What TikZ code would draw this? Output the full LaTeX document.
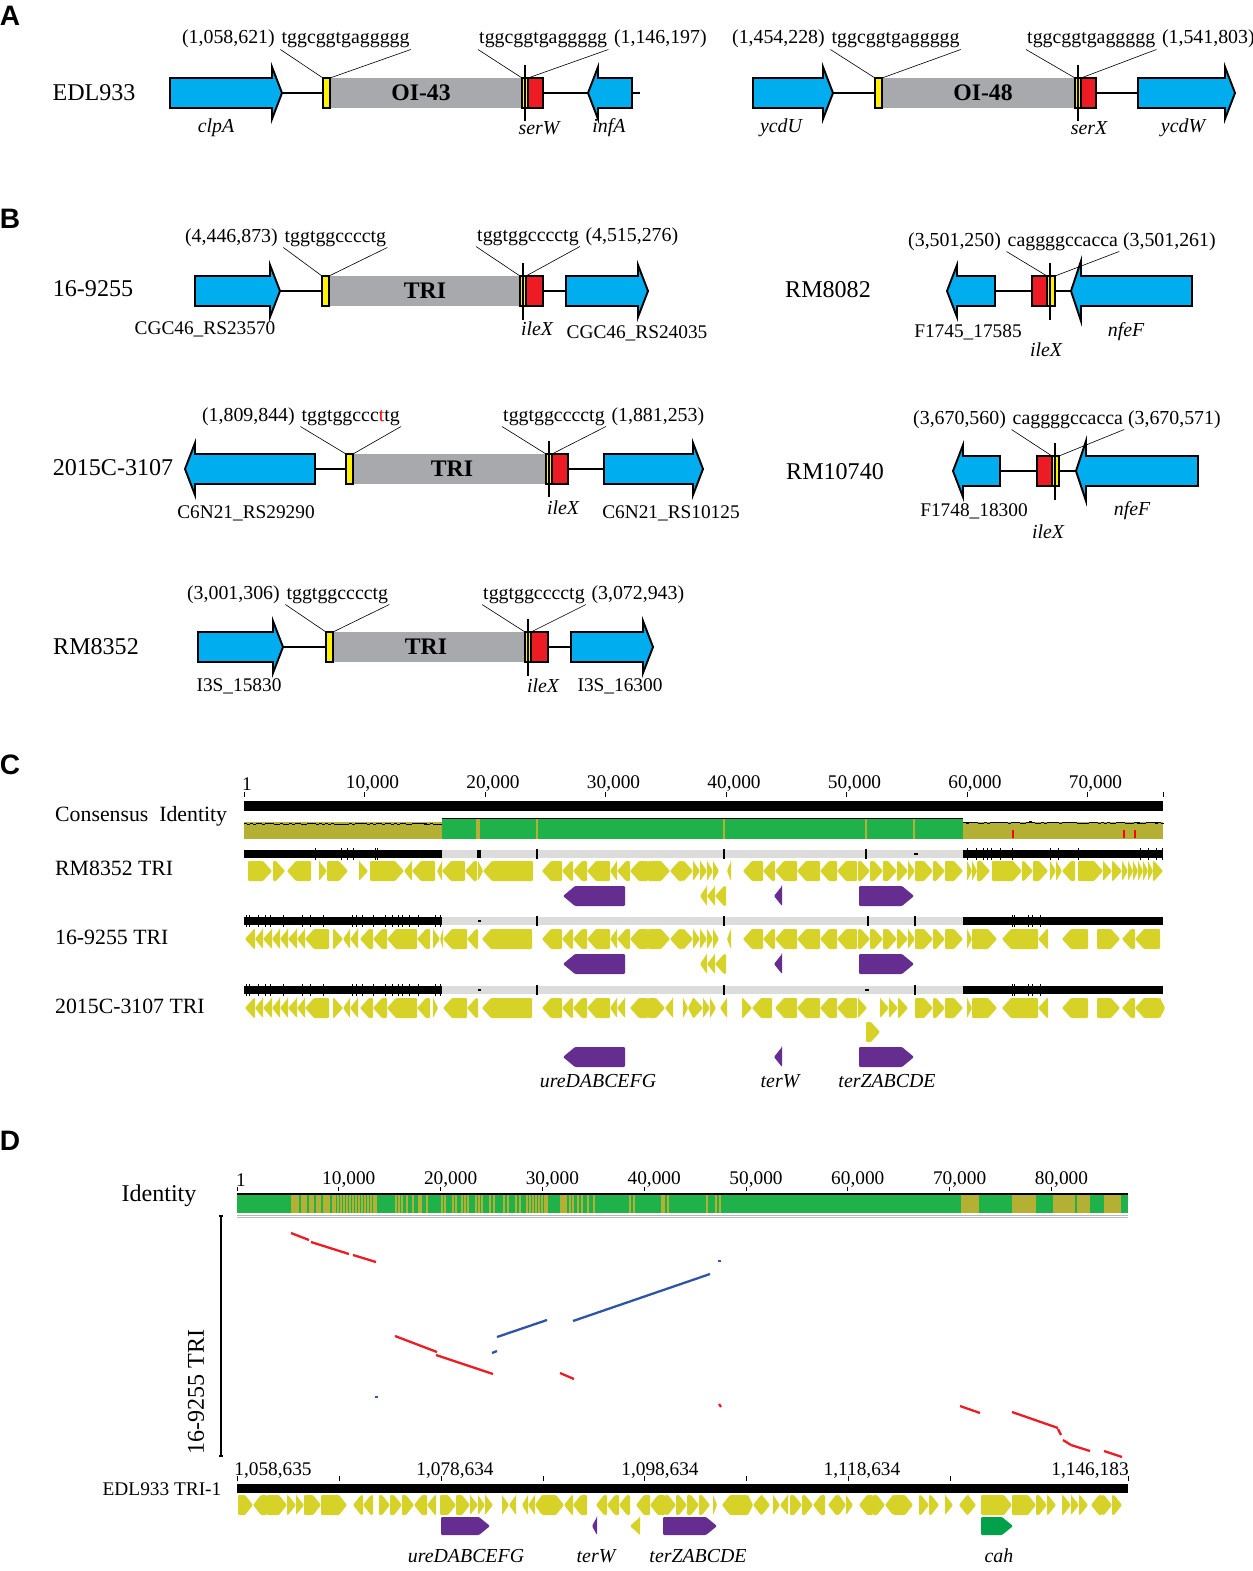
\documentclass[tikz,border=0pt]{standalone}
\usepackage{fontspec}
\setmainfont{Liberation Serif}
\setsansfont{Liberation Sans}
\usetikzlibrary{positioning}

\definecolor{gblue}{RGB}{0,174,239}
\definecolor{gyel}{RGB}{255,242,0}
\definecolor{gred}{RGB}{237,28,36}
\definecolor{ggrey}{RGB}{167,169,172}
\definecolor{cyel}{RGB}{215,210,40}
\definecolor{cpur}{RGB}{102,45,145}
\definecolor{cgrn}{RGB}{32,178,74}
\definecolor{cgrn2}{RGB}{0,161,75}
\definecolor{colv}{RGB}{180,176,52}
\definecolor{clgr}{RGB}{220,220,220}
\definecolor{dotred}{RGB}{237,28,36}
\definecolor{dotblue}{RGB}{46,84,166}

\tikzset{
  gbox/.style={fill=gblue,draw=black,line width=1.1pt},
  ybox/.style={fill=gyel,draw=black,line width=1.1pt,inner sep=0pt,outer sep=0pt,minimum width=0.14cm,minimum height=0.6cm},
  rbox/.style={fill=gred,draw=black,line width=1.1pt,inner sep=0pt,outer sep=0pt,minimum width=0.32cm,minimum height=0.6cm},
  bone/.style={line width=1.1pt},
  sitemark/.style={line width=1.1pt},
  callout/.style={line width=0.35pt},
  strain/.style={font=\fontsize{13.7}{16}\selectfont},
  seq/.style={font=\fontsize{11.3}{13}\selectfont,inner sep=0.5pt},
  locus/.style={font=\fontsize{11}{13}\selectfont},
  gname/.style={font=\fontsize{11.3}{13}\selectfont\itshape},
  island/.style={font=\fontsize{13.5}{16}\selectfont\bfseries},
  panel/.style={font=\sffamily\bfseries\fontsize{16}{18}\selectfont},
  axnum/.style={font=\fontsize{11}{13}\selectfont},
  track/.style={font=\fontsize{12.4}{14}\selectfont},
  dotr/.style={dotred,line width=1.3pt},
  dotb/.style={dotblue,line width=1.3pt},
}

\newcommand{\garrow}[4][26]{%
  \pgfmathsetmacro{\hx}{#3-10*sign(#3-#2)}
  \filldraw[gbox] (#2,#4-15) -- (\hx,#4-15) -- (\hx,#4-#1) -- (#3,#4) -- (\hx,#4+#1) -- (\hx,#4+15) -- (#2,#4+15) -- cycle;}

\newcommand{\gene}[4][cyel]{%
  \pgfmathsetmacro{\hx}{#3-sign(#3-#2)*min(\ghead,abs(#3-#2))}
  \fill[#1,rounded corners=0.6pt] (#2,#4-\ghalf) -- (\hx,#4-\ghalf) -- (#3,#4) -- (\hx,#4+\ghalf) -- (#2,#4+\ghalf) -- cycle;}

\begin{document}
\begin{tikzpicture}[x=0.02cm,y=-0.02cm]
\useasboundingbox (0,0) rectangle (1252,1571);
\fill[white] (0,0) rectangle (1252,1571);

\node[panel] (pA) at (10,16) {A};
\node[panel] (pB) at (10,219) {B};
\node[panel] (pC) at (10,765) {C};
\node[panel] (pD) at (10,1141) {D};

\begin{scope}
  \node[strain] (sEDL) at (94,93) {EDL933};
  \coordinate (bA1) at (282,93);
  \coordinate (eA1) at (640,93);
  \draw[bone] (bA1) -- (eA1);
  \garrow{170}{282}{93}
  \garrow{632}{588}{93}
  \fill[ggrey] (330,78) rectangle (522,108);
  \node[ybox] (yA1) at (326.5,93) {};
  \node[ybox,minimum width=0.12cm] (yA2) at (525,93) {};
  \node[rbox,minimum width=0.3cm] (rA1) at (535.5,93) {};
  \draw[sitemark] (525,65) -- (525,121);
  \node[island] (iA1) at (421,93) {OI-43};
  \node[seq,anchor=base east] (cA1) at (276,44) {(1,058,621)};
  \node[seq,base right=2.5pt of cA1] (qA1) {tggcggtgaggggg};
  \node[seq,anchor=base west] (qA2) at (478,44) {tggcggtgaggggg};
  \node[seq,base right=2.5pt of qA2] (cA2) {(1,146,197)};
  \draw[callout] (qA1.south west) -- (yA1.north west);
  \draw[callout] (qA1.south east) -- (yA1.north east);
  \draw[callout] (qA2.south west) -- (yA2.north west);
  \draw[callout] (qA2.south east) -- (yA2.north east);
  \node[gname] (clpA) at (216,128) {clpA};
  \node[gname] (serW) at (539,128) {serW};
  \node[gname] (infA) at (609,128) {infA};
\end{scope}

\begin{scope}
  \coordinate (bA2) at (833,93);
  \coordinate (eA2) at (1138,93);
  \draw[bone] (bA2) -- (eA2);
  \garrow{753}{833}{93}
  \garrow{1138}{1235}{93}
  \fill[ggrey] (882,78) rectangle (1075,108);
  \node[ybox] (yA3) at (878.5,93) {};
  \node[ybox,minimum width=0.12cm] (yA4) at (1078,93) {};
  \node[rbox,minimum width=0.3cm] (rA2) at (1088.5,93) {};
  \draw[sitemark] (1078,65) -- (1078,121);
  \node[island] (iA2) at (983,93) {OI-48};
  \node[seq,anchor=base east] (cA3) at (826,44) {(1,454,228)};
  \node[seq,base right=2.5pt of cA3] (qA3) {tggcggtgaggggg};
  \node[seq,anchor=base west] (qA4) at (1026,44) {tggcggtgaggggg};
  \node[seq,base right=2.5pt of qA4] (cA4) {(1,541,803)};
  \draw[callout] (qA3.south west) -- (yA3.north west);
  \draw[callout] (qA3.south east) -- (yA3.north east);
  \draw[callout] (qA4.south west) -- (yA4.north west);
  \draw[callout] (qA4.south east) -- (yA4.north east);
  \node[gname] (ycdU) at (781,128) {ycdU};
  \node[gname] (serX) at (1089,128) {serX};
  \node[gname] (ycdW) at (1183,128) {ycdW};
\end{scope}

\begin{scope}
  \node[strain] (s169) at (93,289) {16-9255};
  \coordinate (bB1) at (280,291);
  \coordinate (eB1) at (566,291);
  \draw[bone] (bB1) -- (eB1);
  \garrow{195}{280}{291}
  \garrow{566}{648}{291}
  \fill[ggrey] (329,276) rectangle (520,306);
  \node[ybox] (yB1) at (325.5,291) {};
  \node[ybox,minimum width=0.12cm] (yB2) at (523,291) {};
  \node[rbox,minimum width=0.34cm] (rB1) at (534.5,291) {};
  \draw[sitemark] (523,263) -- (523,320);
  \node[island] (iB1) at (425,291) {TRI};
  \node[seq,anchor=base east] (cB1) at (279,242) {(4,446,873)};
  \node[seq,base right=2.5pt of cB1] (qB1) {tggtggcccctg};
  \node[seq,anchor=base west] (qB2) at (476,241) {tggtggcccctg};
  \node[seq,base right=2.5pt of qB2] (cB2) {(4,515,276)};
  \draw[callout] (qB1.south west) -- (yB1.north west);
  \draw[callout] (qB1.south east) -- (yB1.north east);
  \draw[callout] (qB2.south west) -- (yB2.north west);
  \draw[callout] (qB2.south east) -- (yB2.north east);
  \node[locus] (lB1) at (205,329) {CGC46\_RS23570};
  \node[gname] (ileX1) at (537,329) {ileX};
  \node[locus] (lB2) at (637,333) {CGC46\_RS24035};
\end{scope}

\begin{scope}
  \node[strain] (s8082) at (828,290) {RM8082};
  \coordinate (bB2) at (995,291);
  \coordinate (eB2) at (1071,291);
  \draw[bone] (bB2) -- (eB2);
  \garrow{995}{947}{291}
  \garrow[30]{1192}{1071}{291}
  \node[rbox,minimum width=0.3cm] (rB2) at (1039.5,291) {};
  \node[ybox,minimum width=0.16cm] (yB3) at (1051,291) {};
  \draw[sitemark] (1050,263) -- (1050,320);
  \node[seq,anchor=base west] (cB3) at (907,246) {(3,501,250)};
  \node[seq,base right=2.5pt of cB3] (qB3) {caggggccacca};
  \node[seq,base right=1.5pt of qB3] (cB4) {(3,501,261)};
  \draw[callout] (qB3.south west) -- (yB3.north west);
  \draw[callout] (qB3.south east) -- (yB3.north east);
  \node[locus] (lB3) at (968,332) {F1745\_17585};
  \node[gname] (ileX2) at (1046,350) {ileX};
  \node[gname] (nfeF1) at (1126,332) {nfeF};
\end{scope}

\begin{scope}
  \node[strain] (s2015) at (113,468) {2015C-3107};
  \coordinate (bB3) at (315,469);
  \coordinate (eB3) at (604,469);
  \draw[bone] (bB3) -- (eB3);
  \garrow{315}{185}{469}
  \garrow{604}{703}{469}
  \fill[ggrey] (353,454) rectangle (546,484);
  \node[ybox] (yB4) at (349.5,469) {};
  \node[ybox,minimum width=0.12cm] (yB5) at (549,469) {};
  \node[rbox] (rB3) at (560,469) {};
  \draw[sitemark] (549,441) -- (549,497);
  \node[island] (iB3) at (452,469) {TRI};
  \node[seq,anchor=base east] (cB5) at (296,421) {(1,809,844)};
  \node[seq,base right=2.5pt of cB5] (qB5) {tggtggccc\textcolor{red}{t}tg};
  \node[seq,anchor=base west] (qB6) at (502,421) {tggtggcccctg};
  \node[seq,base right=2.5pt of qB6] (cB6) {(1,881,253)};
  \draw[callout] (qB5.south west) -- (yB4.north west);
  \draw[callout] (qB5.south east) -- (yB4.north east);
  \draw[callout] (qB6.south west) -- (yB5.north west);
  \draw[callout] (qB6.south east) -- (yB5.north east);
  \node[locus] (lB4) at (246,513) {C6N21\_RS29290};
  \node[gname] (ileX3) at (563,508) {ileX};
  \node[locus] (lB5) at (671,513) {C6N21\_RS10125};
\end{scope}

\begin{scope}
  \node[strain] (s10740) at (835,472) {RM10740};
  \coordinate (bB4) at (1000,471);
  \coordinate (eB4) at (1076,471);
  \draw[bone] (bB4) -- (eB4);
  \garrow{1000}{953}{471}
  \garrow[30]{1198}{1076}{471}
  \node[rbox,minimum width=0.3cm] (rB4) at (1044.5,471) {};
  \node[ybox] (yB6) at (1055.5,471) {};
  \draw[sitemark] (1055,443) -- (1055,500);
  \node[seq,anchor=base west] (cB7) at (912,424) {(3,670,560)};
  \node[seq,base right=2.5pt of cB7] (qB7) {caggggccacca};
  \node[seq,base right=1.5pt of qB7] (cB8) {(3,670,571)};
  \draw[callout] (qB7.south west) -- (yB6.north west);
  \draw[callout] (qB7.south east) -- (yB6.north east);
  \node[locus] (lB6) at (974,511) {F1748\_18300};
  \node[gname] (ileX4) at (1048,532) {ileX};
  \node[gname] (nfeF2) at (1132,511) {nfeF};
\end{scope}

\begin{scope}
  \node[strain] (s8352) at (96,647) {RM8352};
  \coordinate (bB5) at (283,647);
  \coordinate (eB5) at (571,647);
  \draw[bone] (bB5) -- (eB5);
  \garrow{198}{283}{647}
  \garrow{571}{653}{647}
  \fill[ggrey] (333,632) rectangle (525,662);
  \node[ybox] (yB7) at (329.5,647) {};
  \node[ybox,minimum width=0.12cm] (yB8) at (528,647) {};
  \node[rbox,minimum width=0.34cm] (rB5) at (539.5,647) {};
  \draw[sitemark] (528,619) -- (528,676);
  \node[island] (iB5) at (426,647) {TRI};
  \node[seq,anchor=base east] (cB9) at (281,599) {(3,001,306)};
  \node[seq,base right=2.5pt of cB9] (qB9) {tggtggcccctg};
  \node[seq,anchor=base west] (qB10) at (482,599) {tggtggcccctg};
  \node[seq,base right=2.5pt of qB10] (cB10) {(3,072,943)};
  \draw[callout] (qB9.south west) -- (yB7.north west);
  \draw[callout] (qB9.south east) -- (yB7.north east);
  \draw[callout] (qB10.south west) -- (yB8.north west);
  \draw[callout] (qB10.south east) -- (yB8.north east);
  \node[locus] (lB7) at (239,686) {I3S\_15830};
  \node[gname] (ileX5) at (543,686) {ileX};
  \node[locus] (lB8) at (620,686) {I3S\_16300};
\end{scope}

\begin{scope}
  \node[axnum] (cx0) at (247,784) {1};
  \foreach \k/\t in {1/10{,}000,2/20{,}000,3/30{,}000,4/40{,}000,5/50{,}000,6/60{,}000,7/70{,}000}
    \node[axnum] (cx\k) at (244+120.5*\k+8,784) {\t};
  \foreach \k in {0,...,7}
    \draw[line width=0.4pt] (244+120.5*\k,792) -- ++(0,5);
  \draw[line width=0.4pt] (1163,792) -- ++(0,5);
  \fill (244,801) rectangle (1163,811);

  \node[track,anchor=west] (tcon) at (49,816) {Consensus\ \ Identity};
  \node[track,anchor=west] (t8352) at (49,868) {RM8352 TRI};
  \node[track,anchor=west] (t169) at (49,937) {16-9255 TRI};
  \node[track,anchor=west] (t2015) at (49,1006) {2015C-3107 TRI};

  \fill[colv] (244,822) rectangle (442,839);
  \fill[colv] (963,822) rectangle (1163,839);
  \fill[cgrn] (442,819) rectangle (963,839);
  \draw[line width=0.6pt] (442,818.5) -- (963,818.5);
  \foreach \x in {477,537,724,866,914}
    \draw[colv,line width=0.6pt] (\x,819) -- (\x,839);
  \fill[colv] (476,819) rectangle (480,839);
  \foreach \i in {0,...,65}
    \draw[line width=0.6pt] (244+3*\i,{823+1.6*rnd}) -- ++(3,0);
  \foreach \i in {0,...,66}
    \draw[line width=0.6pt] (963+3*\i,{822+1.6*rnd}) -- ++(3,0);
  \foreach \x in {1013,1124,1135}
    \draw[red,line width=0.6pt] (\x,830) -- (\x,838);

  \foreach \y in {850,917,986} {
    \fill (244,\y) rectangle (442,\y+8);
    \fill[clgr] (442,\y) rectangle (963,\y+8);
    \fill (963,\y) rectangle (1163,\y+8);
    \draw[line width=0.7pt] (537,\y-1) -- (537,\y+9);
    \draw[line width=0.7pt] (724,\y-1) -- (724,\y+9);
  }
  \fill (477,850) rectangle (481,858);
  \draw[line width=0.7pt] (866,849) -- (866,859);
  \draw[line width=0.7pt] (914,854) -- (918,854);
  \foreach \x in {315,341,347,353,375,377,967,976,983,987,991,1000,1012,1050,1058,1078,1140,1148,1156,1162}
    \draw[line width=0.5pt] (\x,848) -- (\x,860);
  \draw[line width=0.7pt] (478,921) -- (481,921);
  \draw[line width=0.7pt] (868,916) -- (868,926);
  \draw[line width=0.7pt] (915,916) -- (915,926);
  \draw[line width=0.7pt] (478,990) -- (481,990);
  \draw[line width=0.7pt] (865,990) -- (869,990);
  \draw[line width=0.7pt] (915,985) -- (915,995);
  \foreach \y in {915,984} {
    \foreach \x in {246,249,258,265,270,283,302,310,323,352,356,362,373,385,392,398,402,409,418,435,440,1012,1014,1028,1032,1040}
      \draw[line width=0.5pt] (\x,\y) -- (\x,\y+12);
  }

  \def\ghead{9}
  \def\ghalf{10}
  \foreach \a/\b in {248/272,273/285,311/287,319/327,327/348,359/368,370/404,412/404,435/412,442/437,465/442,477/465,478/483,533/483,562/542,573/562,587/573,610/587,617/610,630/617,648/630,648/670,683/670,683/693,693/700,700/707,707/713,713/719,731/727,763/743,775/763,797/775,820/797,837/820,857/837,858/870,870/883,883/897,897/908,908/915,915/933,933/945,945/963,967/972,972/977,977/990,992/1022,1022/1033,1033/1048,1050/1056,1056/1062,1075/1062,1078/1103,1103/1112,1112/1122,1122/1128,1128/1133,1133/1138,1138/1143,1143/1148,1148/1153,1153/1163}
    {\gene{\a}{\b}{871}}
  \foreach \a/\b in {255/245,263/255,272/263,280/272,288/280,297/288,305/297,329/305,333/343,350/343,358/350,373/360,387/373,417/387,430/417,433/440,443/440,467/443,478/467,532/482,562/542,573/562,587/573,610/587,617/610,630/617,648/630,648/670,683/670,683/693,693/700,700/707,707/713,713/719,731/727,763/743,775/763,797/775,820/797,837/820,857/837,858/870,870/883,883/897,897/908,908/915,915/933,933/945,945/963,967/972,972/997,1038/1002,1048/1038,1088/1062,1097/1120,1135/1122,1160/1135}
    {\gene{\a}{\b}{939}}
  \foreach \a/\b in {255/245,263/255,272/263,280/272,288/280,297/288,305/297,329/305,333/343,350/343,358/350,373/360,387/373,417/387,430/417,433/438,467/443,478/467,532/482,562/542,573/562,587/573,610/587,617/610,625/617,648/630,648/665,673/665,683/688,693/688,693/703,703/710,710/716,727/720,742/752,772/752,797/775,820/797,837/820,857/837,858/867,880/889,889/898,898/908,915/933,933/945,945/963,967/972,972/997,1038/1002,1048/1038,1088/1062,1097/1120,1135/1122,1160/1135,1160/1165}
    {\gene{\a}{\b}{1008}}
  \gene{866}{880}{1032}
  \foreach \y in {896,964} {
    \foreach \a/\b in {707/700,715/707,726/715}
      {\gene{\a}{\b}{\y}}
  }
  \def\ghead{12}
  \foreach \y in {896,964,1057} {
    \gene[cpur]{625}{563}{\y}
    \gene[cpur]{782}{774}{\y}
    \gene[cpur]{859}{914}{\y}
  }
  \node[gname] (gC1) at (598,1081) {ureDABCEFG};
  \node[gname] (gC2) at (780,1081) {terW};
  \node[gname] (gC3) at (887,1081) {terZABCDE};
\end{scope}

\begin{scope}
  \node[strain] (tid) at (159,1196) {Identity};
  \node[axnum] (dx0) at (241,1180) {1};
  \foreach \k/\t in {1/10{,}000,2/20{,}000,3/30{,}000,4/40{,}000,5/50{,}000,6/60{,}000,7/70{,}000,8/80{,}000}
    \node[axnum] (dx\k) at (237+101.8*\k+10,1180) {\t};
  \foreach \k in {0,...,8}
    \draw[line width=0.4pt] (237+101.8*\k,1187) -- ++(0,4);
  \fill[cgrn] (237,1194) rectangle (1128,1213);
  \foreach \a/\b in {291/330,560/567,961/979,1012/1036,1053/1090,1104/1121}
    \fill[colv] (\a,1195) rectangle (\b,1213);
  \foreach \x in {333,335,338,341,344,347,350,353,356,359,362,365,368,371,374,376,396,399,402,407,413,419,421,427,442,445,453,456,462,465,468,476,479,482,490,494,504,508,516,520,527,530,533,536,539,542,545,547,570,573,578,582,588,594,630,634,662,664,668,707,716,720}
    \draw[colv,line width=0.8pt] (\x,1195) -- (\x,1213);
  \foreach \x in {300,308,315,322,1043,1046,1076}
    \draw[cgrn,line width=0.8pt] (\x,1195) -- (\x,1213);
  \draw[line width=0.6pt] (237,1194) -- (1128,1194);
  \draw[gray!55,line width=0.5pt] (237,1215) -- (1128,1215);
  \draw[gray!55,line width=0.5pt] (237,1217) -- (1128,1217);

  \coordinate (vt) at (221,1216);
  \coordinate (vb) at (221,1456);
  \draw[line width=0.6pt] (vt) -- (vb);
  \draw[line width=0.6pt] (219,1216) -- (223,1216);
  \draw[line width=0.6pt] (219,1456) -- (223,1456);
  \node[strain,rotate=90] (tyl) at (196,1392) {16-9255 TRI};

  \foreach \a/\b/\c/\d in {291/1233/309/1240,311/1242/349/1254,353/1255/376/1262,395/1336/437/1352,436/1355/493/1374,560/1373/574/1379,719/1404/721/1407,960/1406/980/1413,1012/1412/1058/1428,1058/1429/1061/1435,1063/1440/1071/1445,1071/1445/1090/1451,1104/1451/1122/1457}
    \draw[dotr] (\a,\b) -- (\c,\d);
  \foreach \a/\b/\c/\d in {497/1337/547/1320,573/1321/710/1274,492/1353/497/1351,718/1261/721/1261,375/1397/378/1397}
    \draw[dotb] (\a,\b) -- (\c,\d);

  \node[axnum] (ex0) at (273,1471) {1,058,635};
  \node[axnum] (ex1) at (455,1471) {1,078,634};
  \node[axnum] (ex2) at (660,1471) {1,098,634};
  \node[axnum] (ex3) at (862,1471) {1,118,634};
  \node[axnum] (ex4) at (1090,1471) {1,146,183};
  \foreach \x in {237,339,441,543,644,746,848,950,1128}
    \draw[line width=0.4pt] (\x,1476) -- (\x,1481);
  \fill (237,1484) rectangle (1128,1493);
  \node[axnum] (tedl) at (162,1489) {EDL933 TRI-1};

  \def\ghead{8}
  \def\ghalf{10}
  \foreach \a/\b in {238/253,267/253,267/287,287/296,296/304,304/321,321/347,363/353,373/363,379/390,390/402,402/414,427/414,436/427,440/456,456/470,470/478,478/485,485/493,502/509,516/509,528/522,535/528,542/535,542/564,573/564,587/573,607/596,619/607,630/619,650/636,665/650,665/676,676/687,687/699,699/710,713/717,748/722,748/753,762/753,762/770,773/780,788/780,790/802,802/813,825/813,839/828,839/846,846/853,873/859,873/885,893/885,893/913,919/929,929/939,945/953,968/959,968/976,981/1012,1012/1036,1036/1047,1047/1056,1062/1071,1071/1079,1079/1088,1102/1091,1102/1112,1112/1122}
    {\gene{\a}{\b}{1505}}
  \def\ghead{11}
  \def\ghalf{9}
  \gene[cpur]{441}{490}{1526}
  \gene[cpur]{597}{592}{1526}
  \gene{640}{630}{1526}
  \gene[cpur]{663}{717}{1526}
  \gene[cgrn2]{981}{1013}{1526}
  \node[gname] (gD1) at (466,1556) {ureDABCEFG};
  \node[gname] (gD2) at (596,1556) {terW};
  \node[gname] (gD3) at (698,1556) {terZABCDE};
  \node[gname] (gD4) at (999,1556) {cah};
\end{scope}
\end{tikzpicture}
\end{document}
